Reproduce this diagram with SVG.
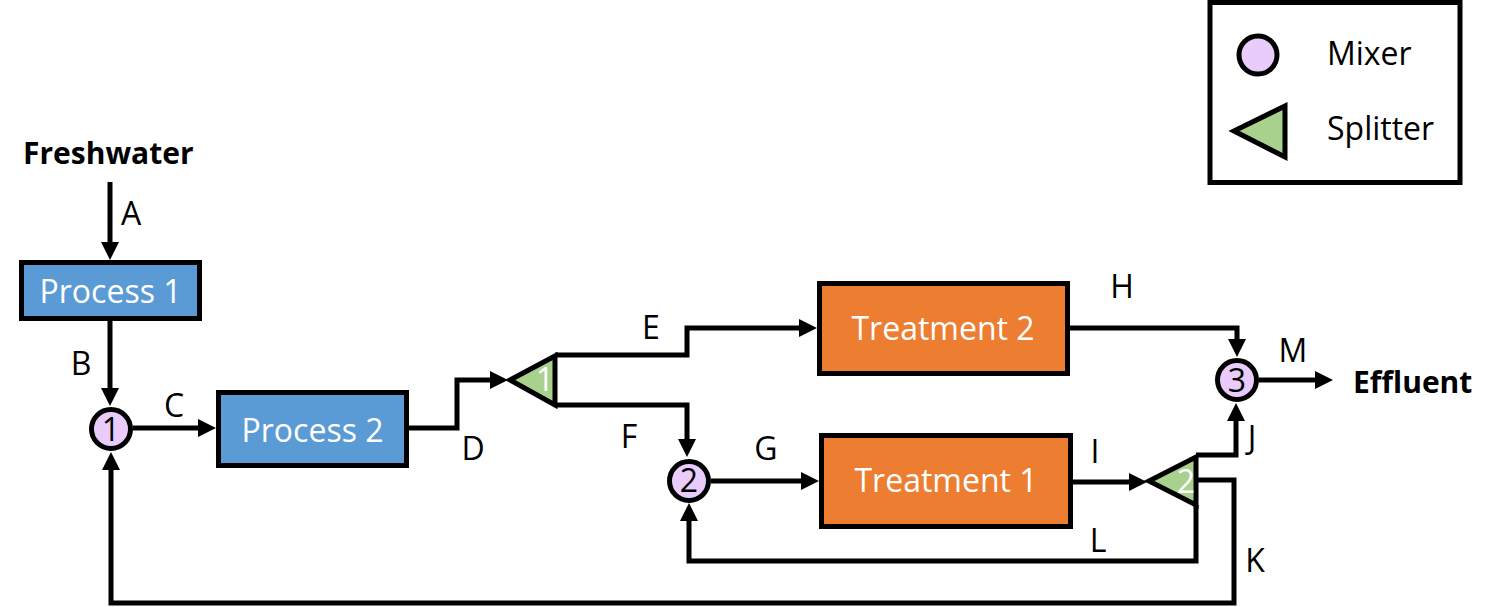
<svg xmlns="http://www.w3.org/2000/svg" width="1498" height="607" viewBox="0 0 1498 607">
<defs>
<marker id="arr" markerUnits="userSpaceOnUse" markerWidth="18" markerHeight="18" refX="10" refY="9" orient="auto">
<path d="M0,0 L18,9 L0,18 z" fill="#000"/>
</marker>
</defs>
<style>
text{font-family:"Open Sans","Noto Sans","Liberation Sans",sans-serif;font-size:32px;fill:#000}
.b{font-weight:bold;font-size:30px}
.w{fill:#fff}
.c{text-anchor:middle}
.proc{fill:#5B9BD5;stroke:#000;stroke-width:5}
.treat{fill:#ED7D31;stroke:#000;stroke-width:5}
.mix{fill:#E9CCFB;stroke:#000;stroke-width:5}
.spl{fill:#A9D18E;stroke:#000;stroke-width:5;stroke-linejoin:miter}
.ln{fill:none;stroke:#000;stroke-width:5;stroke-linejoin:miter}
.ar{marker-end:url(#arr)}
</style>
<rect width="1498" height="607" fill="#fff"/>

<g id="connectors">
<path class="ln ar" d="M110,182 L110,252"/>
<path class="ln ar" d="M110,321 L110,398"/>
<path class="ln ar" d="M133,428 L208,428"/>
<path class="ln ar" d="M409,428 L457,428 L457,380 L500,380"/>
<path class="ln ar" d="M555,355 L687,355 L687,328 L809,328"/>
<path class="ln ar" d="M555,405 L687,405 L687,449"/>
<path class="ln ar" d="M711,481 L811,481"/>
<path class="ln ar" d="M1070,328 L1237,328 L1237,349"/>
<path class="ln ar" d="M1073,482 L1139,482"/>
<path class="ln ar" d="M1196,455 L1236,455 L1236,411"/>
<path class="ln ar" d="M1196,480 L1234,480 L1234,603 L111,603 L111,460"/>
<path class="ln ar" d="M1196,505 L1196,561 L689,561 L689,511"/>
<path class="ln ar" d="M1259,380 L1325,380"/>
</g>

<g id="labels">
<text class="c" x="131" y="225">A</text>
<text class="c" x="81" y="375">B</text>
<text class="c" x="174" y="417">C</text>
<text class="c" x="473" y="460">D</text>
<text class="c" x="651" y="339">E</text>
<text class="c" x="629" y="448">F</text>
<text class="c" x="766" y="460">G</text>
<text class="c" x="1122" y="298">H</text>
<text class="c" x="1095" y="463">I</text>
<text class="c" x="1252" y="449">J</text>
<text class="c" x="1255" y="572">K</text>
<text class="c" x="1098" y="552">L</text>
<text class="c" x="1293" y="362">M</text>
</g>

<g id="freshwater"><text class="b" x="23" y="164">Freshwater</text></g>
<g id="effluent"><text class="b" x="1353" y="393">Effluent</text></g>

<g id="process1">
<rect class="proc" x="21.5" y="262.5" width="178" height="56"/>
<text class="w c" x="110.5" y="303">Process 1</text>
</g>
<g id="process2">
<rect class="proc" x="218.5" y="392.5" width="188" height="73"/>
<text class="w c" x="312.5" y="442">Process 2</text>
</g>
<g id="treatment2">
<rect class="treat" x="819.5" y="283.5" width="248" height="90"/>
<text class="w c" x="943" y="340">Treatment 2</text>
</g>
<g id="treatment1">
<rect class="treat" x="821.5" y="435.5" width="249" height="91"/>
<text class="w c" x="946" y="492">Treatment 1</text>
</g>

<g id="mixer1">
<circle class="mix" cx="111" cy="429" r="19.5"/>
<text class="c" x="111" y="441">1</text>
</g>
<g id="mixer2">
<circle class="mix" cx="689" cy="481" r="19.5"/>
<text class="c" x="689" y="492">2</text>
</g>
<g id="mixer3">
<circle class="mix" cx="1237" cy="380" r="19.5"/>
<text class="c" x="1237" y="392">3</text>
</g>

<g id="splitter1">
<polygon class="spl" points="510,380 555,356 555,405"/>
<text class="w c" x="545" y="391">1</text>
</g>
<g id="splitter2">
<polygon class="spl" points="1149,481 1196,457 1196,505"/>
<text class="w c" x="1186" y="493">2</text>
</g>

<g id="legend">
<rect x="1210" y="2.5" width="250" height="180" fill="#fff" stroke="#000" stroke-width="5"/>
<circle class="mix" cx="1258" cy="55" r="19"/>
<polygon class="spl" points="1234,131 1285,106 1285,157"/>
<text x="1327" y="65">Mixer</text>
<text x="1327" y="140">Splitter</text>
</g>
</svg>
